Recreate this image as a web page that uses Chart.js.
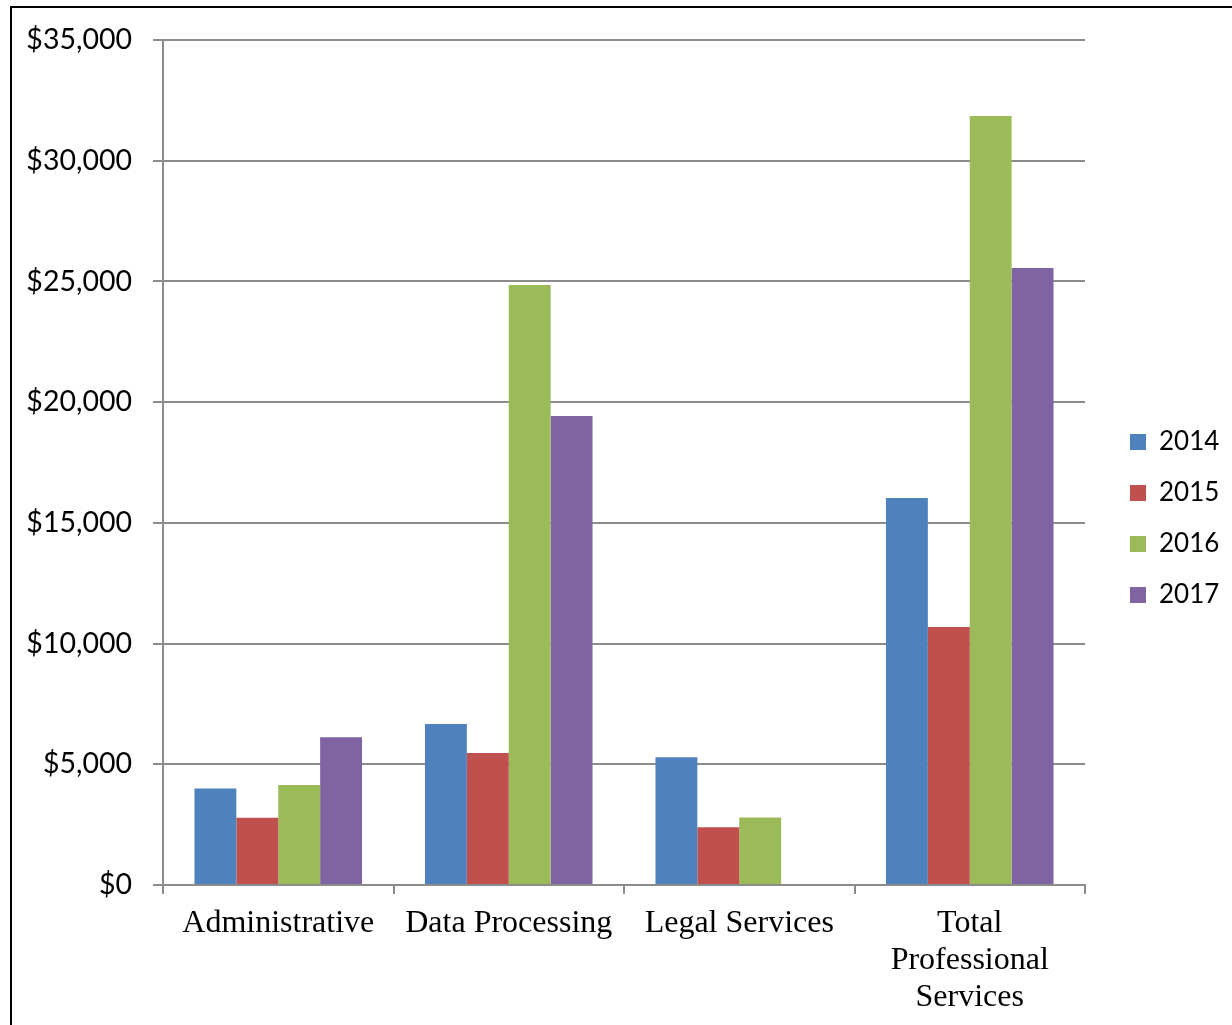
<!DOCTYPE html>
<html>
<head>
<meta charset="utf-8">
<script src="https://cdn.jsdelivr.net/npm/chart.js@4.4.1/dist/chart.umd.min.js"></script>
<style>
  html, body { margin: 0; padding: 0; background: #fff; overflow: hidden; }
  #frame { position: absolute; left: 10px; top: 6px; width: 1300px; height: 1100px;
           border-left: 2px solid #000; border-top: 2px solid #000; }
  #myChart { position: absolute; left: 0; top: 0; }
</style>
</head>
<body>
<div id="frame"></div>
<canvas id="myChart" width="1232" height="1025"></canvas>
<script>
const categories = ['Administrative', 'Data Processing', 'Legal Services', ['Total', 'Professional', 'Services']];
const years = ['2014', '2015', '2016', '2017'];

const values2014 = [4000, 6670, 5290, 16030];
const values2015 = [2790, 5470, 2390, 10690];
const values2016 = [4140, 24850, 2800, 31850];
const values2017 = [6120, 19430, null, 25560];

const seriesColors = ['#4F81BD', '#C0504D', '#9BBB59', '#8064A2'];
const yMax = 35000;
const yStep = 5000;

const gridColor = '#8c8c8c';

// move the legend a bit right / to the right height, like the excel original
const legendShift = {
  id: 'legendShift',
  beforeLayout(chart) {
    const lg = chart.legend;
    if (lg && !lg._fixed) {
      const fit = lg.fit;
      lg.fit = function () {
        fit.call(this);
        this.width = 147;
      };
      lg._fixed = true;
    }
  },
  afterLayout(chart) {
    const lg = chart.legend;
    if (!lg) return;
    lg.left += 20;
    lg.top += -14;
    lg.bottom += -14;
  }
};

const ctx = document.getElementById('myChart');

const c = new Chart(ctx, {
  type: 'bar',
  data: {
    labels: categories,
    datasets: [values2014, values2015, values2016, values2017].map((vals, i) => ({
      label: years[i],
      data: vals,
      backgroundColor: seriesColors[i],
      borderWidth: 0,
      categoryPercentage: 0.727,
      barPercentage: 1.0
    }))
  },
  options: {
    responsive: false,
    animation: false,
    layout: { padding: { top: 40, left: 0, right: 0, bottom: 0 } },
    plugins: {
      tooltip: { enabled: false },
      legend: {
        position: 'right',
        labels: {
          boxWidth: 16,
          boxHeight: 16,
          padding: 25,
          color: '#000',
          font: { family: 'Lato', size: 26 }
        }
      }
    },
    scales: {
      x: {
        grid: {
          display: true,
          drawOnChartArea: false,
          drawTicks: true,
          tickLength: 9,
          color: gridColor,
          lineWidth: 2
        },
        border: { display: true, color: gridColor, width: 2 },
        ticks: {
          color: '#000',
          padding: 11,
          maxRotation: 0,
          autoSkip: false,
          font: { family: 'Liberation Serif', size: 32, lineHeight: 1.16 }
        },
        afterFit(s) { s.height = 140; }
      },
      y: {
        min: 0,
        max: yMax,
        grid: {
          color: gridColor,
          lineWidth: 2,
          tickLength: 10
        },
        border: { display: true, color: gridColor, width: 2 },
        ticks: {
          stepSize: yStep,
          color: '#000',
          padding: 21,
          font: { family: 'Lato', size: 28.5 },
          callback: v => '$' + v.toLocaleString('en-US')
        },
        afterFit(s) { s.width = 163; }
      }
    }
  },
  plugins: [legendShift]
});
</script>
</body>
</html>
